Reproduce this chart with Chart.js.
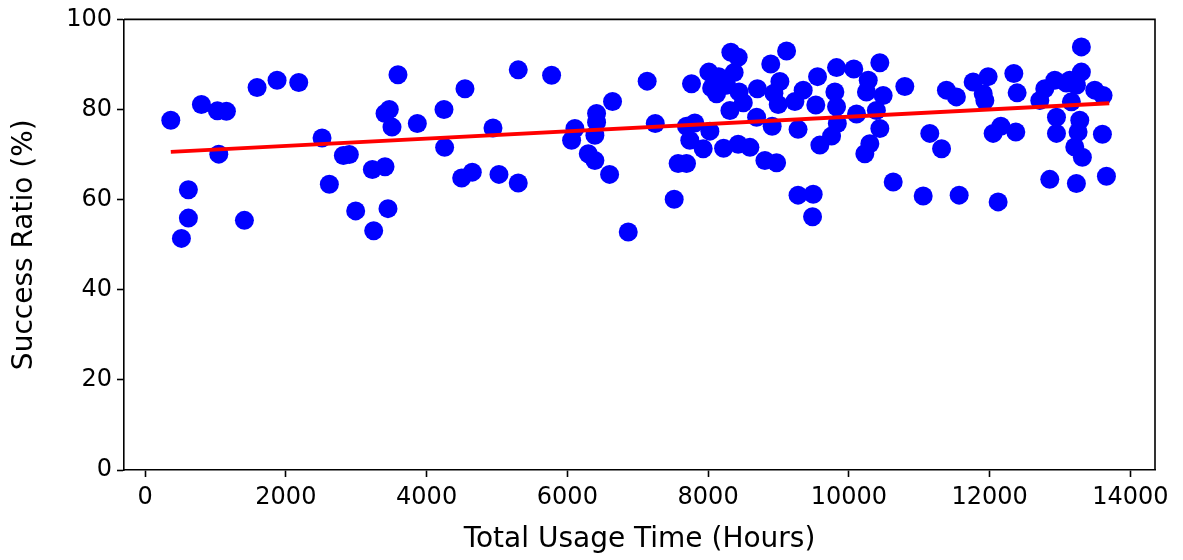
<!DOCTYPE html>
<html><head><meta charset="utf-8">
<script src="https://cdn.jsdelivr.net/npm/chart.js@4"></script>
<style>html,body{margin:0;padding:0;background:#fff}canvas{display:block}</style>
</head><body>
<canvas id="c" width="1183" height="560"></canvas>
<script>
const usageHours = [
  365, 800, 1027, 1155, 1591, 1875, 2183, 1047, 2514, 2618, 615, 615, 1411, 516,
  3593, 5302, 4545, 3409, 3470, 3508, 3868, 4247, 4943, 4256, 2817, 2902, 3229, 3409, 4498, 4649, 5028, 5302, 2992, 3451, 3248,
  5776, 7134, 7764, 6642, 6415, 6107, 6415, 6391, 6060, 6297, 6391, 6600, 7249, 7693, 7811, 7740, 7930, 7574, 7693, 7518, 6865,
  8323, 8427, 9115, 8890, 8011, 8150, 8370, 8050, 8261, 8440, 8700, 8310, 8500, 8689, 8910, 8120, 8025, 8220, 8427, 8594, 8807, 8973,
  9020, 8935, 8996, 9233, 9351, 9555, 9801, 9530, 9825, 10109, 9278, 9836, 9754, 9588, 9825, 10070, 9278, 9493, 9484,
  10440, 10275, 10795, 10250, 10487, 11386, 11528, 10391, 10440, 11150, 10298, 10227, 11317, 10630, 11056, 11567, 12121,
  11766, 11979, 11932, 11909, 12050, 12160, 12344, 12391, 12372, 13304, 12713, 12784, 12926, 13139, 13304, 13233, 13494, 13612,
  13162, 12950, 13281, 12950, 13257, 13210, 13318, 13603, 12855, 13233, 13660, 13090
];
const successRatio = [
  77.6, 81.1, 79.7, 79.6, 84.9, 86.5, 86.0, 70.1, 73.7, 63.4, 62.2, 55.9, 55.4, 51.4,
  87.7, 88.8, 84.6, 79.1, 80.0, 76.1, 76.9, 80.0, 75.9, 71.6, 69.8, 70.0, 66.7, 67.3, 64.8, 66.1, 65.6, 63.7, 57.5, 58.0, 53.1,
  87.6, 86.3, 85.7, 81.8, 79.1, 75.8, 77.2, 74.3, 73.2, 70.2, 68.7, 65.6, 76.9, 76.3, 77.0, 73.2, 71.3, 68.0, 68.0, 60.1, 52.8,
  92.7, 91.6, 93.0, 90.1, 88.3, 87.3, 88.2, 84.8, 85.4, 83.9, 84.6, 79.8, 81.5, 78.3, 76.3, 83.5, 75.2, 71.4, 72.3, 71.6, 68.7, 68.2,
  86.2, 83.6, 81.1, 81.8, 84.3, 87.3, 83.9, 81.0, 80.6, 79.0, 75.6, 76.9, 74.1, 72.1, 89.3, 89.0, 61.0, 61.2, 56.2,
  90.4, 86.5, 85.1, 83.9, 83.1, 84.3, 82.8, 79.8, 75.8, 74.7, 72.4, 70.2, 71.3, 63.9, 60.8, 61.0, 59.5,
  86.1, 87.3, 82.0, 83.5, 74.7, 76.3, 88.0, 83.7, 75.0, 93.9, 82.0, 84.6, 86.5, 86.5, 88.3, 85.4, 84.3, 83.1,
  81.7, 78.3, 77.6, 74.7, 75.0, 71.7, 69.4, 74.5, 64.5, 63.6, 65.2, 85.9
];
const trendHours = [365, 13700];
const trendRatio = [70.6, 81.4];
const xTickValues = [0, 2000, 4000, 6000, 8000, 10000, 12000, 14000];
const yTickValues = [0, 20, 40, 60, 80, 100];

const points = usageHours.map((h, i) => ({x: h, y: successRatio[i]}));
const trend = trendHours.map((h, i) => ({x: h, y: trendRatio[i]}));

Chart.defaults.font.family = "'DejaVu Sans', sans-serif";
Chart.defaults.color = '#000';

const framePlugin = {
  id: 'frame',
  afterDraw(chart) {
    const {ctx, chartArea: a} = chart;
    ctx.save();
    ctx.strokeStyle = '#000';
    ctx.lineWidth = 1.6;
    ctx.beginPath();
    ctx.moveTo(a.left, a.top);
    ctx.lineTo(a.right, a.top);
    ctx.lineTo(a.right, a.bottom);
    ctx.stroke();
    ctx.restore();
  }
};

new Chart(document.getElementById('c'), {
  type: 'scatter',
  data: {
    datasets: [
      {
        type: 'line',
        data: trend,
        borderColor: '#ff0000',
        borderWidth: 4,
        pointRadius: 0,
        fill: false,
        tension: 0
      },
      {
        data: points,
        backgroundColor: '#0000ff',
        borderWidth: 0,
        pointRadius: 9.5,
        pointHoverRadius: 9.5
      }
    ]
  },
  options: {
    responsive: false,
    animation: false,
    devicePixelRatio: 1,
    layout: {padding: {top: 19, right: 28, left: 0, bottom: 0}},
    plugins: {legend: {display: false}, tooltip: {enabled: false}},
    scales: {
      x: {
        type: 'linear',
        min: -300,
        max: 14350,
        afterBuildTicks(scale) { scale.ticks = xTickValues.map(v => ({value: v})); },
        afterFit(scale) { scale.height = 90; },
        grid: {drawOnChartArea: false, drawTicks: true, tickLength: 7, tickWidth: 1.6, tickColor: '#000'},
        border: {display: true, color: '#000', width: 1.6},
        ticks: {font: {size: 24}, padding: 6, color: '#000', maxRotation: 0, callback: v => String(v)},
        title: {display: true, text: 'Total Usage Time (Hours)', font: {size: 28}, color: '#000', padding: {top: 0, bottom: 3}}
      },
      y: {
        type: 'linear',
        min: 0,
        max: 100,
        afterBuildTicks(scale) { scale.ticks = yTickValues.map(v => ({value: v})); },
        afterFit(scale) { scale.width = 124; },
        grid: {drawOnChartArea: false, drawTicks: true, tickLength: 7, tickWidth: 1.6, tickColor: '#000'},
        border: {display: true, color: '#000', width: 1.6},
        ticks: {font: {size: 24}, padding: 5, color: '#000', callback: v => String(v)},
        title: {display: true, text: 'Success Ratio (%)', font: {size: 28}, color: '#000', padding: {top: 8, bottom: 0}}
      }
    }
  },
  plugins: [framePlugin]
});
</script>
</body></html>
